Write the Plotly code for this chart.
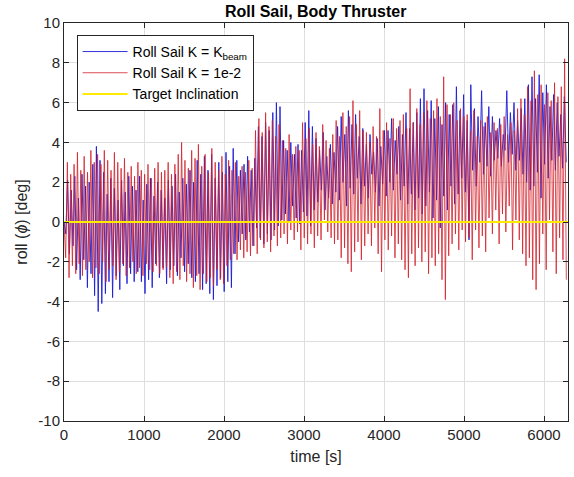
import numpy as np
import plotly.graph_objects as go

# Roll response of the sail (deg): successive crests and troughs of each run.
# Crests sit at k*period, troughs half a period later.
BLUE_PERIOD = 45.0   # s, K = K_beam run
RED_PERIOD = 42.0    # s, K = 1e-2 run

kbeam_crests = [
    0.0, 2.1, 1.6, 2.3, 1.2, 2.4, 1.8, 2.0, 2.9, 3.8,
    3.1, 2.5, 1.4, 2.2, 1.7, 1.1, 2.1, 1.5, 2.3, 1.8,
    1.6, 2.3, 1.1, 1.9, 2.2, 1.3, 2.0, 1.6, 1.2, 2.1,
    1.8, 2.4, 1.5, 2.2, 1.9, 2.6, 2.0, 3.1, 2.4, 3.3,
    2.6, 3.4, 2.2, 3.0, 2.5, 3.5, 2.8, 3.7, 3.1, 2.6,
    2.9, 3.3, 2.6, 3.2, 4.8, 4.3, 5.0, 4.6, 5.5, 6.0,
    5.8, 4.1, 3.6, 4.0, 3.4, 3.9, 3.6, 5.0, 5.6, 4.8,
    4.2, 3.6, 4.5, 3.3, 3.9, 3.5, 4.8, 5.3, 4.4, 5.6,
    4.9, 5.4, 4.3, 4.7, 3.9, 4.4, 3.5, 4.2, 3.8, 4.6,
    4.6, 5.2, 4.1, 4.8, 4.4, 5.5, 4.7, 5.0, 5.5, 6.2,
    6.7, 5.6, 6.1, 5.2, 5.8, 4.9, 6.0, 5.4, 5.9, 6.8,
    5.6, 6.4, 5.1, 6.9, 5.7, 5.3, 6.6, 5.0, 5.8, 5.3,
    4.6, 5.2, 4.4, 6.6, 5.5, 6.0, 5.1, 5.7, 6.2, 6.9,
    7.3, 6.2, 7.4, 6.5, 6.9, 5.8, 6.4, 6.0, 5.4, 6.3,
]
kbeam_troughs = [
    -0.6, -1.6, -1.2, -2.4, -2.9, -1.9, -3.3, -2.6, -3.7, -4.5,
    -4.1, -3.6, -3.0, -3.8, -2.7, -3.4, -2.2, -3.1, -2.6, -3.0,
    -2.5, -3.0, -3.6, -2.9, -3.3, -2.1, -2.8, -2.3, -3.1, -2.4,
    -2.2, -2.7, -1.8, -2.5, -2.1, -2.8, -3.0, -2.6, -3.4, -3.1,
    -3.6, -3.9, -3.2, -2.8, -3.5, -3.0, -3.3, -1.6, -1.0, -0.6,
    -0.9, -0.5, -1.2, -0.3, -0.8, -1.1, -0.6, -0.9, -0.4, -0.2,
    0.1, 0.4, 0.0, 0.8, 0.2, -0.1, 0.5, 0.3, -0.2, 0.6,
    1.0, 1.6, 0.6, 1.2, 0.9, 1.5, 1.1, 2.0, 0.8, 1.7,
    1.4, 2.2, 0.9, 1.8, 1.2, 2.4, 1.5, 0.8, 1.9, 1.3,
    2.0, 1.6, 2.4, 1.1, 1.8, 0.9, 1.4, 0.6, 1.2, 0.4,
    0.8, 1.5, 0.2, 1.1, -0.3, 1.3, 0.6, 1.8, 0.9, 1.4,
    2.2, 1.5, -0.9, 2.6, 1.8, 3.0, 2.4, 2.8, 2.3, 3.1,
    3.2, 2.8, 3.6, 3.0, 3.4, 2.6, 3.1, 2.4, 2.0, 1.6,
    1.8, 2.5, 1.2, 2.9, 2.2, 3.1, 2.6, 3.3, 2.7, 3.0,
]

k1e2_crests = [
    0.0, 3.0, 2.4, 2.9, 3.5, 2.6, 3.3, 2.5, 3.6, 3.0,
    3.4, 2.9, 3.6, 3.1, 2.6, 3.5, 3.0, 2.7, 3.2, 2.5,
    2.8, 2.3, 3.0, 2.6, 2.4, 2.9, 2.2, 2.7, 3.0, 2.5,
    2.6, 3.0, 2.4, 2.9, 3.4, 4.0, 3.1, 2.7, 3.6, 3.2,
    3.9, 2.8, 3.4, 2.5, 3.7, 3.0, 2.6, 3.3, 2.4, 3.1,
    2.6, 3.0, 2.3, 2.8, 2.5, 3.1, 2.7, 4.6, 5.2, 4.5,
    5.5, 4.8, 5.1, 4.3, 4.9, 4.1, 3.7, 4.4, 3.4, 3.8,
    3.6, 5.0, 4.2, 4.7, 3.9, 4.5, 3.8, 4.9, 4.1, 3.7,
    4.4, 5.1, 4.3, 5.5, 4.8, 5.3, 6.1, 4.9, 5.6, 4.6,
    4.5, 4.0, 4.8, 4.3, 5.7, 4.6, 5.0, 4.2, 5.2, 4.7,
    5.1, 5.4, 4.7, 6.7, 5.0, 5.7, 4.9, 5.5, 6.1, 5.2,
    5.6, 6.2, 5.3, 7.3, 5.9, 5.4, 6.0, 5.1, 5.7, 5.3,
    5.4, 4.6, 5.6, 4.3, 5.1, 4.8, 5.3, 4.5, 5.0, 4.7,
    4.9, 5.3, 4.4, 5.0, 4.6, 5.7, 6.2, 5.4, 6.8, 6.1,
    7.6, 6.4, 6.9, 5.9, 6.5, 6.1, 7.0, 6.3, 6.8, 8.2,
]
k1e2_troughs = [
    -1.8, -2.8, -2.2, -2.6, -2.1, -2.7, -2.4, -2.0, -2.8, -2.3,
    -2.6, -2.0, -3.0, -2.4, -2.2, -2.9, -2.5, -2.1, -2.7, -2.3,
    -2.0, -2.6, -2.3, -2.7, -2.1, -2.4, -2.5, -2.2, -2.6, -2.4,
    -2.3, -2.8, -3.1, -2.5, -2.9, -2.2, -3.0, -2.6, -3.3, -2.7,
    -3.4, -2.6, -3.0, -2.8, -3.2, -2.4, -2.9, -3.1, -2.2, -1.9,
    -1.6, -1.9, -1.4, -1.8, -1.5, -1.7, -1.2, -1.6, -0.9, -1.3,
    -1.0, -1.5, -0.7, -1.2, -0.8, -0.6, -1.1, -0.4, -0.9, -0.5,
    -1.4, -0.8, -1.1, -0.6, -1.3, -0.7, -0.9, 0.1, -0.5, -0.8,
    -1.1, -0.9, -1.8, -1.3, -2.1, -2.5, -1.5, -1.0, -1.9, -1.2,
    -0.6, -1.2, -0.3, -1.6, -2.5, -0.9, -1.4, -0.7, -1.8, -1.1,
    -1.9, -2.4, -2.8, -1.6, -2.2, -1.3, -2.0, -1.5, -2.6, -1.8,
    -2.2, -1.6, -2.9, -3.9, -1.7, -1.1, -0.6, -1.4, -0.4, -1.0,
    -0.8, -1.9, -0.4, -1.3, -0.7, -1.5, 0.2, -0.6, 0.6, -1.1,
    0.4, -0.5, 0.8, -1.4, 0.1, -0.9, -1.6, -2.2, -1.8, -2.9,
    -3.4, -2.1, -0.6, -2.4, 0.1, -1.5, -2.6, -0.8, -1.9, -2.9,
]

target_time = [0, 6300]
target_roll = [0, 0]

x_ticks = [0, 1000, 2000, 3000, 4000, 5000, 6000]
y_ticks = [-10, -8, -6, -4, -2, 0, 2, 4, 6, 8, 10]
y_tick_text = ["-10", "-8", "-6", "-4", "-2", "0", "2", "4", "6", "8", "10"]


def crest_trough_series(crests, troughs, period):
    """Interleave crests and troughs into one time history."""
    n = len(crests)
    t = np.empty(2 * n)
    v = np.empty(2 * n)
    t[0::2] = np.arange(n) * period
    t[1::2] = np.arange(n) * period + period / 2
    v[0::2] = crests
    v[1::2] = troughs
    return t, v


t_b, roll_b = crest_trough_series(kbeam_crests, kbeam_troughs, BLUE_PERIOD)
t_r, roll_r = crest_trough_series(k1e2_crests, k1e2_troughs, RED_PERIOD)

FONT = "Liberation Sans, Arial, Helvetica, sans-serif"
AX = "#262626"
GRID = "#dfdfdf"

fig = go.Figure()
fig.add_trace(go.Scatter(
    x=t_b, y=roll_b, mode="lines", name="Roll Sail K = K<sub>beam</sub>",
    line=dict(color="rgba(28,28,215,0.9)", width=1),
))
fig.add_trace(go.Scatter(
    x=t_r, y=roll_r, mode="lines", name="Roll Sail K = 1e-2",
    line=dict(color="rgba(210,30,40,0.78)", width=1),
))
fig.add_trace(go.Scatter(
    x=target_time, y=target_roll, mode="lines", name="Target Inclination",
    line=dict(color="#FFEB00", width=2),
))

axis_common = dict(
    showline=True, linecolor=AX, linewidth=1, mirror="ticks",
    ticks="inside", ticklen=5, tickcolor=AX, tickwidth=1,
    showgrid=True, gridcolor=GRID, gridwidth=1, zeroline=False,
    tickfont=dict(family=FONT, size=15, color=AX),
)

fig.update_layout(
    width=574, height=477,
    margin=dict(l=64, r=6, t=23, b=56),
    paper_bgcolor="white", plot_bgcolor="white",
    title=dict(
        text="<b>Roll Sail, Body Thruster</b>",
        font=dict(family=FONT, size=16, color="black"),
        x=0.55, xanchor="center", xref="container",
        y=1 - 11 / 477, yanchor="middle", yref="container",
    ),
    xaxis=dict(
        range=[0, 6300], tickvals=x_ticks, **axis_common,
        title=dict(text="time [s]", font=dict(family=FONT, size=16, color=AX), standoff=8),
    ),
    yaxis=dict(
        range=[-10, 10], tickvals=y_ticks, ticktext=y_tick_text, **axis_common,
        title=dict(text="roll (<i>ϕ</i>) [deg]", font=dict(family=FONT, size=16, color=AX), standoff=6),
    ),
    legend=dict(
        x=0.025, y=0.97, xanchor="left", yanchor="top",
        bgcolor="white", bordercolor=AX, borderwidth=1,
        font=dict(family=FONT, size=14, color="black"),
        itemwidth=45, tracegroupgap=0,
    ),
    showlegend=True,
)

fig.write_html("out.html")
